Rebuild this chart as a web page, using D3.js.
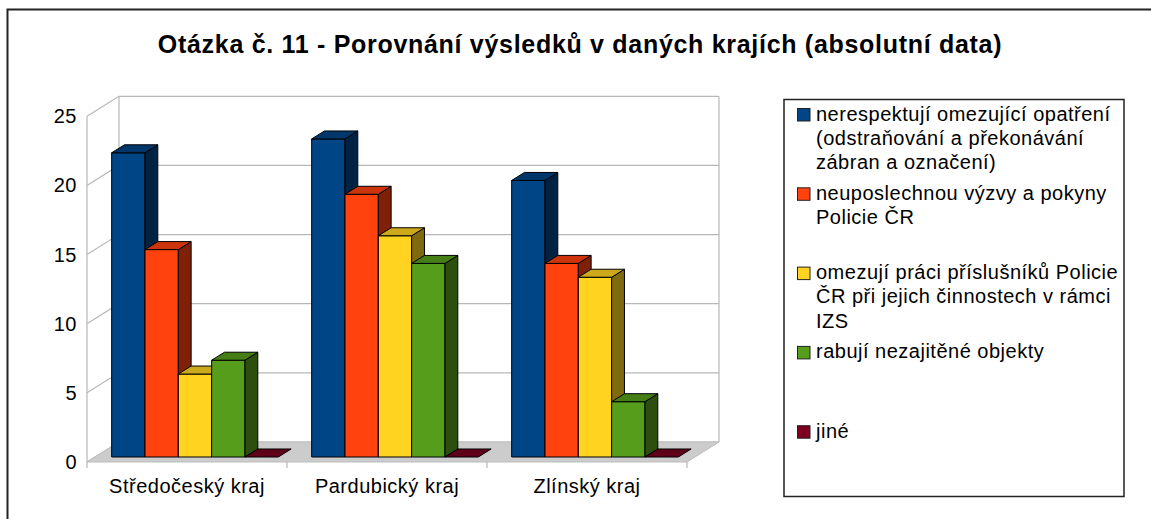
<!DOCTYPE html>
<html>
<head>
<meta charset="utf-8">
<script src="https://cdn.jsdelivr.net/npm/d3@7"></script>
<style>
  body { margin: 0; background: #fff; }
  text { font-family: "Liberation Sans", Arial, sans-serif; }
</style>
</head>
<body>
<div id="chart"></div>
<script>
// Data
const categories = ["Středočeský kraj", "Pardubický kraj", "Zlínský kraj"];
const seriesNames = [
  ["nerespektují omezující opatření", "(odstraňování a překonávání", "zábran a označení)"],
  ["neuposlechnou výzvy a pokyny", "Policie ČR"],
  ["omezují práci příslušníků Policie", "ČR při jejich činnostech v rámci", "IZS"],
  ["rabují nezajitěné objekty"],
  ["jiné"]
];
const seriesColors = ["#004586", "#ff420e", "#ffd320", "#579d1c", "#7e0021"];
const values = [
  [22, 15, 6, 7, 0],
  [23, 19, 16, 14, 0],
  [20, 14, 13, 4, 0]
];
const yTicks = [0, 5, 10, 15, 20, 25];
const title = "Otázka č. 11 - Porovnání výsledků v daných krajích (absolutní data)";

// Constants for SVG dimensions
const width = 1151;
const height = 519;

// Oblique 3D projection: depth goes up and to the right
const depthX = 32;
const depthY = -20;
const barZ0 = 0.25;
const barZ1 = 0.65;

const svg = d3
  .select("#chart")
  .append("svg")
  .attr("width", width)
  .attr("height", height);

// Outer frame
svg
  .append("rect")
  .attr("x", 7.5)
  .attr("y", 9.5)
  .attr("width", 1160)
  .attr("height", 530)
  .attr("fill", "none")
  .attr("stroke", "#222")
  .attr("stroke-width", 2);

// Title
svg
  .append("text")
  .attr("x", 580)
  .attr("y", 53)
  .attr("text-anchor", "middle")
  .style("font-size", "25px")
  .style("letter-spacing", "0.7px")
  .style("font-weight", "bold")
  .text(title);

// Scales (front plane)
const xScale = d3.scaleBand().domain(categories).range([87, 687]);
const xInner = d3
  .scaleBand()
  .domain(d3.range(seriesNames.length))
  .range([0, xScale.bandwidth()])
  .paddingOuter(0.5)
  .paddingInner(0);
const yScale = d3.scaleLinear().domain([0, 25]).range([462, 116.3]);

// project a point (front x, value, depth) to the screen
const proj = (x, v, z) => [x + depthX * z, yScale(v) + depthY * z];
const poly = (pts) => "M" + pts.map((p) => p.join(",")).join("L") + "Z";

const gridColor = "#b8b8b8";
const [x0, x1] = xScale.range();

// Back wall and left wall
const walls = svg.append("g").attr("fill", "none").attr("stroke", gridColor).attr("stroke-width", 1.2);
yTicks.forEach((t) => {
  const a = proj(x0, t, 0);
  const b = proj(x0, t, 1);
  const c = proj(x1, t, 1);
  walls.append("path").attr("d", `M${a}L${b}L${c}`);
});
walls.append("path").attr("d", `M${proj(x0, 0, 0)}L${proj(x0, 25, 0)}`);
walls.append("path").attr("d", `M${proj(x0, 0, 1)}L${proj(x0, 25, 1)}`);
walls.append("path").attr("d", `M${proj(x1, 0, 1)}L${proj(x1, 25, 1)}`);

// Floor
svg
  .append("path")
  .attr("d", poly([proj(x0, 0, 0), proj(x1, 0, 0), proj(x1, 0, 1), proj(x0, 0, 1)]))
  .attr("fill", "#cccccc")
  .attr("stroke", "#bdbdbd")
  .attr("stroke-width", 1);

// Category separator ticks
svg
  .append("g")
  .selectAll("line")
  .data(categories.map((c) => xScale(c)).concat([x1]))
  .join("line")
  .attr("x1", (d) => d)
  .attr("x2", (d) => d)
  .attr("y1", yScale(0))
  .attr("y2", yScale(0) + 6)
  .attr("stroke", gridColor)
  .attr("stroke-width", 1.2);

// Y axis labels
svg
  .append("g")
  .selectAll("text")
  .data(yTicks)
  .join("text")
  .attr("x", 77)
  .attr("y", (d) => yScale(d) + 7)
  .attr("text-anchor", "end")
  .style("font-size", "20px")
  .style("letter-spacing", "0.5px")
  .text((d) => d);

// X axis labels
svg
  .append("g")
  .selectAll("text")
  .data(categories)
  .join("text")
  .attr("x", (d) => xScale(d) + xScale.bandwidth() / 2)
  .attr("y", 493)
  .attr("text-anchor", "middle")
  .style("font-size", "20px")
  .style("letter-spacing", "0.5px")
  .text((d) => d);

// shade a colour for the top and side faces
const shade = (col, k) => {
  const c = d3.rgb(col);
  return d3.rgb(c.r * k, c.g * k, c.b * k).formatHex();
};

// Bars (drawn left to right so nearer faces cover farther ones)
const bars = svg.append("g").attr("stroke", "#000").attr("stroke-width", 1).attr("stroke-linejoin", "round");
categories.forEach((cat, ci) => {
  values[ci].forEach((v, si) => {
    const xl = xScale(cat) + xInner(si);
    const xr = xl + xInner.bandwidth();
    const col = seriesColors[si];
    if (v > 0) {
      // front face
      bars.append("path")
        .attr("d", poly([proj(xl, 0, barZ0), proj(xr, 0, barZ0), proj(xr, v, barZ0), proj(xl, v, barZ0)]))
        .attr("fill", col);
      // side face
      bars.append("path")
        .attr("d", poly([proj(xr, 0, barZ0), proj(xr, 0, barZ1), proj(xr, v, barZ1), proj(xr, v, barZ0)]))
        .attr("fill", shade(col, 0.5));
    }
    // top face
    bars.append("path")
      .attr("d", poly([proj(xl, v, barZ0), proj(xr, v, barZ0), proj(xr, v, barZ1), proj(xl, v, barZ1)]))
      .attr("fill", v > 0 ? shade(col, 0.8) : shade(col, 0.75));
  });
});

// Legend
const legend = svg.append("g");
legend
  .append("rect")
  .attr("x", 784)
  .attr("y", 99.5)
  .attr("width", 340)
  .attr("height", 397)
  .attr("fill", "#fff")
  .attr("stroke", "#222")
  .attr("stroke-width", 1.5);

const itemStep = 79.3;
seriesNames.forEach((lines, i) => {
  const top = 108.5 + i * itemStep;
  legend
    .append("rect")
    .attr("x", 797.5)
    .attr("y", top)
    .attr("width", 12.5)
    .attr("height", 12.5)
    .attr("fill", seriesColors[i])
    .attr("stroke", "#222")
    .attr("stroke-width", 1);
  const t = legend
    .append("text")
    .attr("x", 816)
    .attr("y", top + 12)
    .style("font-size", "20px")
    .style("letter-spacing", "0.5px");
  lines.forEach((line, li) => {
    t.append("tspan")
      .attr("x", 816)
      .attr("dy", li === 0 ? 0 : 24.3)
      .text(line);
  });
});
</script>
</body>
</html>
